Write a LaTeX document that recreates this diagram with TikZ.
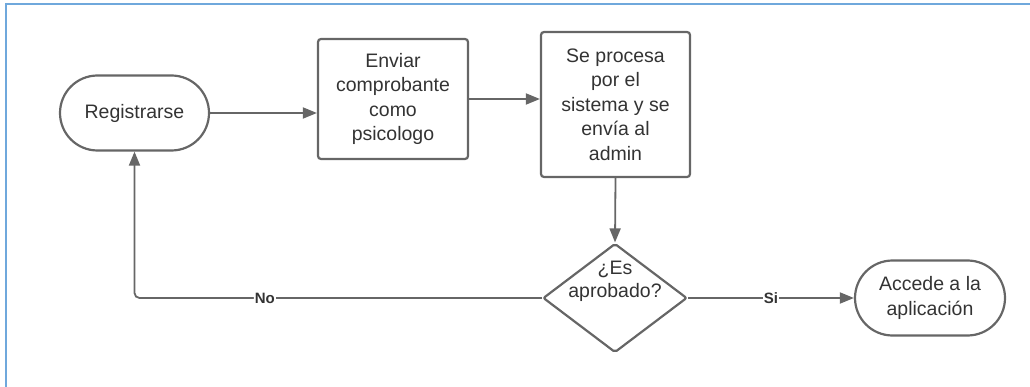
\documentclass[tikz,border=0pt]{standalone}
\usepackage{fontspec}
\setmainfont{Liberation Sans}
\usetikzlibrary{shapes.geometric,arrows.meta}
\definecolor{strokegray}{HTML}{666666}
\definecolor{txtgray}{HTML}{333333}
\definecolor{framblue}{HTML}{6FA8DC}
\begin{document}
\begin{tikzpicture}[x=1pt,y=-1pt,
  base/.style={draw=strokegray, line width=2.2pt, text=txtgray,
    font=\fontsize{19.5}{24.5}\selectfont, align=center, inner sep=0pt},
  stadium/.style={base, rounded corners=37.5pt, minimum width=149pt, minimum height=75pt},
  procbox/.style={base, rounded corners=3pt, minimum width=150pt},
  decision/.style={base, diamond, rounded corners=2pt, minimum width=144pt, minimum height=109pt},
  dtext/.style={text=txtgray, font=\fontsize{19.5}{23}\selectfont, align=center, inner sep=0pt},
  conn/.style={draw=strokegray, line width=1.8pt, -{Triangle[length=14pt,width=11pt]}},
  lbl/.style={fill=white, text=txtgray, font=\fontsize{15}{16}\selectfont\bfseries, inner sep=1pt}
]
\useasboundingbox (0,0) rectangle (1030,387);
\draw[framblue, line width=2pt] (6,390) -- (6,4) -- (1032,4);

\node[stadium] (reg) at (134.5,113) {Registrarse};
\node[procbox, minimum height=120pt] (env) at (393,99) {Enviar\\comprobante\\como\\psicologo};
\node[procbox, minimum width=149pt, minimum height=145pt] (proc) at (615.5,104.5) {Se procesa\\por el\\sistema y se\\envía al\\admin};
\node[decision] (dec) at (615,298) {};
\node[dtext] (dectext) at ([yshift=17pt]dec.center) {¿Es\\aprobado?};
\node[stadium, minimum width=150pt] (acc) at (930,298) {Accede a la\\aplicación};

\draw[conn] (reg.east) -- (reg.east -| env.west);
\draw[conn] (env.east) -- (env.east -| proc.west);
\draw[conn] (proc.south) -- (dec.north);
\draw[conn] (dec.east) -- node[lbl] {Si} (dec.east -| acc.west);
\draw[conn, rounded corners=5pt] (dec.west) -- node[lbl, pos=0.68] {No} (dec.west -| reg.south) -- (reg.south);
\end{tikzpicture}
\end{document}
